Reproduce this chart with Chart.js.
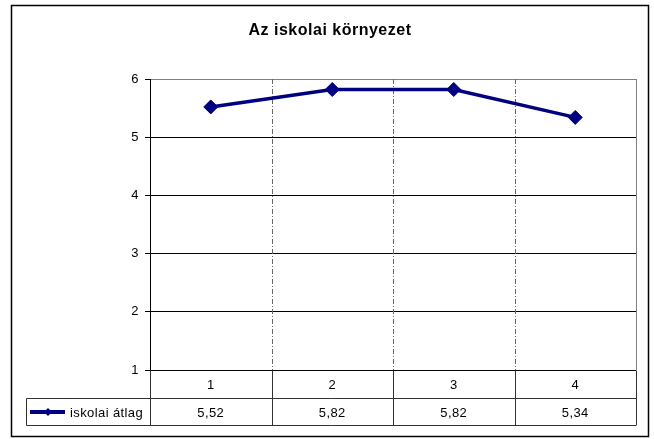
<!DOCTYPE html>
<html>
<head>
<meta charset="utf-8">
<script src="https://cdn.jsdelivr.net/npm/chart.js@4/dist/chart.umd.min.js"></script>
<style>
  html, body { margin: 0; padding: 0; background: #fff; }
</style>
</head>
<body>
<canvas id="myChart" width="654" height="439"></canvas>
<script>
const chartTitle = 'Az iskolai környezet'
const categories = ['1', '2', '3', '4']
const seriesName = 'iskolai átlag'
const seriesValues = [5.52, 5.82, 5.82, 5.34]
const yTicks = [1, 2, 3, 4, 5, 6]

const FONT = '"Liberation Sans", Arial, sans-serif'
const NAVY = '#000080'

// Hungarian decimal comma
const fmt = v => v.toFixed(2).replace('.', ',')

const tablePlugin = {
  id: 'dataTable',
  beforeDraw(chart) {
    const ctx = chart.ctx
    ctx.save()
    ctx.fillStyle = '#fff'
    ctx.fillRect(0, 0, chart.width, chart.height)
    // outer chart frame
    ctx.strokeStyle = '#000'
    ctx.lineWidth = 1.5
    ctx.strokeRect(11.5, 5.5, 637, 431)
    ctx.restore()
    // the original text is set a little wide
    ctx.letterSpacing = '0.5px'
  },
  beforeDatasetsDraw(chart) {
    const { ctx, chartArea: a, scales: { x } } = chart
    ctx.save()
    ctx.lineWidth = 1
    // dashed lines between categories
    ctx.strokeStyle = '#666'
    ctx.setLineDash([5, 2, 1, 2])
    for (let i = 0; i < categories.length - 1; i++) {
      const bx = Math.round((x.getPixelForValue(i) + x.getPixelForValue(i + 1)) / 2) + 0.5
      ctx.beginPath()
      ctx.moveTo(bx, a.top)
      ctx.lineTo(bx, a.bottom)
      ctx.stroke()
    }
    ctx.setLineDash([])
    // plot area right border
    ctx.strokeStyle = '#808080'
    ctx.beginPath()
    ctx.moveTo(Math.round(a.right) + 0.5, a.top)
    ctx.lineTo(Math.round(a.right) + 0.5, a.bottom)
    ctx.stroke()
    ctx.restore()
  },
  afterDraw(chart) {
    const { ctx, chartArea: a, scales: { x } } = chart
    const top = Math.round(a.bottom) + 0.5
    const mid = top + 28
    const bot = top + 55
    const legLeft = 26.5
    ctx.save()
    ctx.strokeStyle = '#333'
    ctx.lineWidth = 1
    ctx.beginPath()
    ctx.moveTo(legLeft, mid); ctx.lineTo(a.right, mid)
    ctx.moveTo(legLeft, bot); ctx.lineTo(a.right, bot)
    ctx.moveTo(legLeft, mid); ctx.lineTo(legLeft, bot)
    const edges = [a.left]
    for (let i = 0; i < categories.length - 1; i++) {
      edges.push((x.getPixelForValue(i) + x.getPixelForValue(i + 1)) / 2)
    }
    edges.push(a.right)
    edges.forEach(ex => {
      const px = Math.round(ex) + 0.5
      ctx.moveTo(px, top); ctx.lineTo(px, bot)
    })
    ctx.stroke()

    ctx.fillStyle = '#000'
    ctx.font = '13px ' + FONT
    ctx.letterSpacing = '0.4px'
    ctx.textAlign = 'center'
    ctx.textBaseline = 'middle'
    categories.forEach((c, i) => {
      const cx = x.getPixelForValue(i)
      ctx.fillText(c, cx, (top + mid) / 2 + 1)
      ctx.fillText(fmt(seriesValues[i]), cx, (mid + bot) / 2 + 1)
    })

    // legend key
    const ly = Math.round((mid + bot) / 2)
    ctx.strokeStyle = NAVY
    ctx.lineWidth = 4
    ctx.beginPath()
    ctx.moveTo(30, ly); ctx.lineTo(65, ly)
    ctx.stroke()
    ctx.fillStyle = NAVY
    ctx.beginPath()
    ctx.moveTo(48, ly - 4); ctx.lineTo(52, ly); ctx.lineTo(48, ly + 4); ctx.lineTo(44, ly)
    ctx.closePath()
    ctx.fill()
    ctx.fillStyle = '#000'
    ctx.textAlign = 'left'
    ctx.fillText(seriesName, 70, (mid + bot) / 2 + 1)
    ctx.restore()
  }
}

new Chart(document.getElementById('myChart').getContext('2d'), {
  type: 'line',
  data: {
    labels: categories,
    datasets: [{
      label: seriesName,
      data: seriesValues,
      borderColor: NAVY,
      backgroundColor: NAVY,
      borderWidth: 3.5,
      pointStyle: 'rectRot',
      pointRadius: 7,
      pointBackgroundColor: NAVY,
      pointBorderColor: NAVY,
      pointBorderWidth: 1,
      tension: 0,
      clip: false
    }]
  },
  options: {
    responsive: false,
    animation: false,
    layout: { padding: { left: 24, right: 18, top: 0, bottom: 69 } },
    plugins: {
      legend: { display: false },
      tooltip: { enabled: false },
      title: {
        display: true,
        text: chartTitle,
        color: '#000',
        font: { family: FONT, size: 16, weight: 'bold' },
        padding: { top: 21, bottom: 38.8 }
      }
    },
    scales: {
      x: {
        display: false,
        offset: true
      },
      y: {
        min: 1,
        max: 6,
        afterFit(scale) { scale.width = 126 },
        afterBuildTicks(scale) { scale.ticks = yTicks.map(v => ({ value: v })) },
        ticks: {
          stepSize: 1,
          padding: 6,
          color: '#000',
          font: { family: FONT, size: 13 }
        },
        grid: {
          color: c => (c.tick && c.tick.value === 6 ? '#808080' : '#000'),
          tickColor: '#000',
          tickLength: 5,
          lineWidth: 1
        },
        border: { display: true, color: '#000', width: 1 }
      }
    }
  },
  plugins: [tablePlugin]
})
</script>
</body>
</html>
